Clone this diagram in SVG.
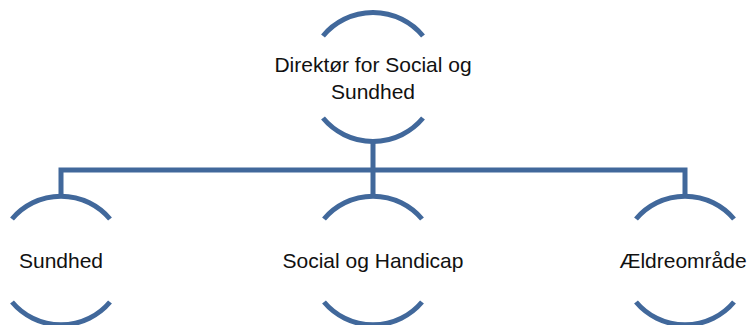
<svg xmlns="http://www.w3.org/2000/svg" width="753" height="325" viewBox="0 0 753 325">
<style>
.arc{fill:none;stroke:#41689b;stroke-width:5}
.con{fill:none;stroke:#41689b;stroke-width:5;stroke-linejoin:miter}
text{font-family:"Liberation Sans",Arial,sans-serif;font-size:21px;fill:#111;text-anchor:middle}
</style>
<rect width="753" height="325" fill="#fff"/>
<g id="connectors">
<path class="con" d="M373 142 V170 M61 197 V170 H685 V197 M373 170 V197"/>
</g>
<g id="n0">
<path class="arc" d="M323 36 A65 65 0 0 1 423 36"/>
<path class="arc" d="M323 118 A65 65 0 0 0 423 118"/>
<text x="373" y="72">Direktør for Social og</text>
<text x="373" y="99">Sundhed</text>
</g>
<g id="n1">
<path class="arc" d="M12 219 A64 64 0 0 1 110 219"/>
<path class="arc" d="M12 302 A64 64 0 0 0 110 302"/>
<text x="61" y="268">Sundhed</text>
</g>
<g id="n2">
<path class="arc" d="M324 219 A64 64 0 0 1 422 219"/>
<path class="arc" d="M324 302 A64 64 0 0 0 422 302"/>
<text x="373" y="268">Social og Handicap</text>
</g>
<g id="n3">
<path class="arc" d="M636 219 A64 64 0 0 1 734 219"/>
<path class="arc" d="M636 302 A64 64 0 0 0 734 302"/>
<text x="683" y="268">Ældreområde</text>
</g>
</svg>
